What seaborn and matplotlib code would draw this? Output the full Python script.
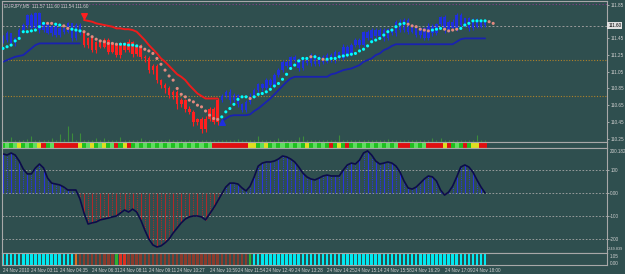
import numpy as np
import pandas as pd
import seaborn as sns
import matplotlib.pyplot as plt
import matplotlib.transforms as mtransforms

# ---- data ----
closes = [111.43, 111.51, 111.39, 111.45, 111.55, 111.61, 111.73, 111.57, 111.75, 111.55,
          111.62, 111.51, 111.60, 111.49, 111.57, 111.53, 111.63, 111.45, 111.61, 111.51,
          111.37, 111.45, 111.31, 111.41, 111.35, 111.43, 111.29, 111.38, 111.25, 111.39,
          111.31, 111.41, 111.26, 111.36, 111.23, 111.21, 111.07, 111.12, 110.95, 110.89,
          110.85, 110.77, 110.81, 110.66, 110.71, 110.61, 110.57, 110.45, 110.49, 110.37,
          110.49, 110.61, 110.45, 110.71, 110.76, 110.81, 110.71, 110.77, 110.66, 110.59,
          110.69, 110.76, 110.83, 110.90, 110.85, 110.95, 110.89, 111.01, 111.07, 111.17,
          111.12, 111.23, 111.19, 111.09, 111.21, 111.15, 111.25, 111.14, 111.23, 111.17,
          111.25, 111.19, 111.29, 111.21, 111.35, 111.26, 111.37, 111.43, 111.37, 111.53,
          111.45, 111.55, 111.48, 111.55, 111.45, 111.56, 111.51, 111.65, 111.55, 111.67,
          111.53, 111.59, 111.49, 111.57, 111.45, 111.60, 111.51, 111.62, 111.71, 111.55,
          111.65, 111.57, 111.73, 111.61, 111.69, 111.57, 111.67, 111.59, 111.65, 111.61]
first_open = 111.47
# wick lengths in pips (0.01)
wick_up = [2, 3, 1, 2, 3, 2, 1, 3, 2, 2,
           3, 2, 1, 2, 3, 2, 2, 1, 3, 2,
           3, 2, 2, 1, 2, 3, 2, 2, 1, 2,
           2, 3, 1, 2, 2, 2, 3, 2, 2, 1,
           2, 3, 2, 2, 3, 2, 3, 2, 1, 2,
           3, 2, 2, 3, 2, 2, 3, 2, 1, 2,
           2, 3, 2, 2, 1, 3, 2, 2, 3, 2,
           2, 1, 2, 3, 2, 2, 3, 1, 2, 2,
           3, 2, 2, 1, 3, 2, 2, 3, 2, 1,
           2, 3, 2, 2, 3, 1, 2, 2, 3, 2,
           2, 3, 2, 1, 2, 3, 2, 2, 1, 2,
           2, 3, 2, 2, 1, 2, 2, 3, 1, 2]
wick_dn = [3, 2, 2, 3, 1, 2, 3, 2, 2, 3,
           2, 1, 3, 2, 2, 3, 2, 3, 2, 2,
           2, 3, 2, 3, 2, 2, 3, 2, 2, 3,
           2, 2, 3, 2, 3, 4, 3, 5, 4, 3,
           6, 3, 4, 5, 3, 4, 3, 5, 4, 5,
           4, 3, 3, 4, 2, 2, 3, 2, 3, 2,
           2, 3, 2, 2, 3, 2, 2, 3, 2, 2,
           3, 2, 2, 3, 2, 2, 3, 2, 2, 3,
           2, 2, 3, 2, 2, 3, 2, 2, 3, 2,
           2, 3, 2, 2, 3, 2, 2, 3, 2, 2,
           3, 2, 2, 3, 2, 2, 3, 2, 2, 3,
           2, 2, 3, 2, 2, 3, 2, 2, 2, 2]
volumes = [8, 10, 25, 8, 12, 10, 14, 30, 12, 10,
           8, 12, 20, 10, 40, 15, 80, 45, 12, 45,
           10, 8, 12, 20, 10, 20, 8, 10, 12, 25,
           10, 8, 12, 10, 20, 8, 10, 12, 8, 10,
           12, 15, 8, 10, 12, 8, 10, 12, 8, 10,
           12, 8, 10, 12, 8, 10, 12, 8, 14, 10,
           8, 12, 10, 30, 10, 8, 12, 10, 20, 8,
           10, 12, 10, 25, 30, 10, 8, 12, 10, 8,
           12, 10, 8, 35, 10, 12, 8, 10, 12, 8,
           10, 12, 8, 10, 12, 15, 8, 10, 12, 8,
           10, 12, 8, 10, 12, 8, 20, 10, 20, 8,
           10, 12, 8, 10, 12, 8, 10, 35, 12, 8]
nan = np.nan
support_line = ([111.17, 111.19, 111.21, 111.23, 111.24, 111.25, 111.29, 111.33, 111.37, 111.39]
                + [111.39] * 10 + [nan] * 34
                + [110.46, 110.49, 110.52, 110.53, 110.53, 110.53, 110.53, 110.54, 110.58, 110.61,
                   110.65, 110.69, 110.73, 110.78, 110.83, 110.88, 110.93, 110.97]
                + [110.99] * 9
                + [111.02, 111.03, 111.05, 111.07, 111.08, 111.09, 111.11, 111.13, 111.17, 111.19,
                   111.21, 111.25, 111.27, 111.31, 111.33, 111.36]
                + [111.38] * 15 + [111.41, 111.44] + [111.45] * 6)
resist_line = ([nan] * 20
               + [111.67, 111.66, 111.65, 111.63, 111.62, 111.61, 111.60, 111.59, 111.57, 111.57,
                  111.56, 111.56, 111.55, 111.53, 111.48, 111.43, 111.37, 111.32, 111.27, 111.21,
                  111.17, 111.12, 111.07, 111.02, 110.99, 110.95, 110.89, 110.84, 110.79, 110.76,
                  110.73, 110.73, 110.73, 110.73]
               + [nan] * 66)
dots = [111.33, 111.35, 111.37, 111.42, 111.45, 111.53, 111.53, 111.54, 111.55, 111.59,
        111.63, 111.63, 111.63, 111.62, 111.61, 111.60, 111.57, 111.56, 111.55, 111.54,
        111.53, 111.50, 111.47, 111.44, 111.42, 111.41, 111.39, 111.39, 111.38, 111.38,
        111.38, 111.37, 111.37, 111.36, 111.35, 111.32, 111.30, 111.27, 111.21, 111.14,
        111.07, 111.00, 110.95, 110.85, 110.78, 110.75, 110.71, 110.69, 110.65, 110.63,
        110.58, 110.53, 110.49, 110.48, 110.51, 110.57, 110.61, 110.66, 110.72, 110.75,
        110.75, 110.73, 110.75, 110.78, 110.79, 110.81, 110.84, 110.88, 110.91, 110.96,
        111.02, 111.09, 111.13, 111.18, 111.21, 111.21, 111.23, 111.23, 111.21, 111.20,
        111.20, 111.21, 111.21, 111.23, 111.24, 111.25, 111.26, 111.27, 111.30, 111.32,
        111.36, 111.41, 111.43, 111.45, 111.49, 111.53, 111.55, 111.59, 111.62, 111.63,
        111.62, 111.60, 111.59, 111.56, 111.55, 111.54, 111.55, 111.56, 111.57, 111.56,
        111.54, 111.55, 111.56, 111.57, 111.61, 111.63, 111.66, 111.66, 111.66, 111.66,
        111.65, 111.63]
dot_side = ("CCCCCCCCCC" "CPPCCPPCCC" "PPPPPPPPPC" "CCCCPPPPPP" "PPPPPPPPPP" "PPPPCCCCCC"
            "CPCCCCCCCC" "CCCCCCPCCP" "CCCCCCCCCC" "CCCCCCCCCC" "PPPPPPCCCP" "PPPCCCCCCC" "PP")
strip_codes = ("glglyglgly" "rglrrrrrry" "glyglyglrg" "yrglglglgl" "glglglglgl" "glrrrrrrrr"
               "ryyglyglgl" "glglgyglgl" "grgygrglgl" "glglglglrr" "rglglrrrry" "rglgrgyyrr")
trend_codes = "c" * 18 + "o" + "b" * 9 + "g" + "rr" + "b" * 30 + "g" + "c" * 58
cci = [170, 165, 174, 165, 139, 104, 83, 83, 109, 126,
       109, 65, 43, 39, 35, 26, 13, 13, 13, -26,
       -87, -135, -130, -126, -117, -113, -109, -104, -100, -87,
       -74, -83, -70, -83, -117, -161, -200, -226, -235, -230,
       -217, -200, -174, -152, -130, -113, -104, -100, -100, -104,
       -117, -91, -65, -35, -4, 26, 43, 43, 39, 22,
       9, 30, 70, 117, 130, 135, 135, 139, 148, 161,
       157, 148, 135, 113, 87, 70, 61, 57, 65, 74,
       78, 74, 74, 74, 100, 122, 130, 126, 143, 174,
       183, 165, 139, 126, 130, 135, 130, 117, 91, 52,
       22, 17, 26, 43, 61, 74, 70, 52, 13, -9,
       4, 30, 70, 113, 122, 113, 91, 57, 26, 0]
price_ticks = [111.85, 111.45, 111.25, 111.05, 110.85, 110.65, 110.45, 110.25]
bid = 111.60
pivot_levels = [111.19, 110.76]
top_level = 111.86
sell_arrow = (20, 111.72)
buy_arrow = (54, 110.45)
cci_ticks = [100, 0, -100, -200]
cci_tick_labels = ["100", "0.00", "-100", "-200"]
cci_max_label, cci_min_label = "200.182", "-249.839"
time_ticks = [0, 7, 14, 22, 29, 36, 43, 51, 58, 65, 72, 80, 87, 94, 101, 109, 116]
time_labels = ["24 Nov 2010", "24 Nov 03:11", "24 Nov 04:35", "24 Nov 06:31", "24 Nov 08:11",
               "24 Nov 09:11", "24 Nov 10:27", "24 Nov 10:59", "24 Nov 11:54", "24 Nov 12:49",
               "24 Nov 13:28", "24 Nov 14:25", "24 Nov 15:14", "24 Nov 15:58", "24 Nov 16:29",
               "24 Nov 17:09", "24 Nov 18:00"]

# ---- style ----
bg = "#2f4f4f"
fg = "#d0d0d0"
grid_c = "#a8a8a8"
fs = 3.3
sns.set_theme(style="dark", rc={"axes.facecolor": bg, "figure.facecolor": bg,
                                "axes.edgecolor": grid_c})
plt.rcParams["font.family"] = ["Liberation Sans", "DejaVu Sans"]

n = len(closes)
idx = np.arange(n)
opens = [first_open] + closes[:-1]
highs = [max(o, c) + u / 100 for o, c, u in zip(opens, closes, wick_up)]
lows = [min(o, c) - d / 100 for o, c, d in zip(opens, closes, wick_dn)]
down = ~np.isnan(np.array(resist_line))
bar_col = np.where(down, "#ff1f1f", "#1f2fe0")

W, H = 625, 274
L, WD = 2 / W, 605 / W
xlim = (-0.25, 149.1)

fig = plt.figure(figsize=(6.25, 2.74), dpi=100)
ax = fig.add_axes([L, 1 - 142 / H, WD, 141 / H])
ax_s = fig.add_axes([L, 1 - 148 / H, WD, 6 / H])
ax_c = fig.add_axes([L, 1 - 253 / H, WD, 105 / H])
ax_b = fig.add_axes([L, 1 - 265 / H, WD, 12 / H])

# main price panel
axv = ax.twinx()
axv.vlines(idx, 0, volumes, color="#3c8c3c", lw=0.8)
axv.set_ylim(0, 700)
axv.set_yticks([])
axv.grid(False)
for sp in axv.spines.values():
    sp.set_visible(False)

ax.axhline(top_level, color="#8a3a8a", lw=0.8, ls=(0, (1, 2)))
for lv in pivot_levels:
    ax.axhline(lv, color="#b0822a", lw=0.8, ls=(0, (1, 1.5)))
ax.axhline(bid, color="#9a9a9a", lw=0.7, ls=(0, (2, 2)))

ax.vlines(idx, lows, highs, color=bar_col, lw=0.8)
body_lo = np.minimum(opens, closes)
body_h = np.maximum(np.abs(np.array(closes) - np.array(opens)), 0.006)
ax.bar(idx, body_h, bottom=body_lo, width=0.62, color=bar_col, linewidth=0)

ax.plot(idx, support_line, color="#1a22b0", lw=1.3)
ax.plot(idx, resist_line, color="#ee1c1c", lw=1.4)
dot_df = pd.DataFrame({"x": np.arange(len(dots)), "y": dots, "side": list(dot_side)})
sns.scatterplot(data=dot_df, x="x", y="y", hue="side", palette={"C": "#00ffff", "P": "#e48a80"},
                s=5, linewidth=0, legend=False, ax=ax, zorder=5)
ax.scatter([sell_arrow[0]], [sell_arrow[1]], marker="v", s=16, color="#ff2020", zorder=6)
ax.scatter([buy_arrow[0]], [buy_arrow[1]], marker="^", s=16, color="#1f2fe0", zorder=6)

ax.set_xlim(*xlim)
ax.set_ylim(110.209, 111.898)
ax.yaxis.tick_right()
ax.set_yticks(price_ticks)
ax.set_yticklabels([f"{p:.2f}" for p in price_ticks])
ax.text(1.002, bid, f"{bid:.2f}", transform=mtransforms.blended_transform_factory(ax.transAxes, ax.transData),
        fontsize=fs, color="black", va="center", ha="left",
        bbox=dict(boxstyle="square,pad=0.2", fc="#e0e0e0", ec="none"))
ax.text(0.004, 0.985, "EURJPY,M5  111.57 111.60 111.54 111.60", transform=ax.transAxes,
        fontsize=fs, color=fg, va="top")

# signal strip
strip_colors = {"g": "#1fbf1f", "l": "#5ede5e", "r": "#e01010", "y": "#dede20"}
ax_s.bar(idx, 1, width=1.0, color=[strip_colors[c] for c in strip_codes], linewidth=0)
ax_s.set_xlim(*xlim)
ax_s.set_ylim(0, 1)
ax_s.set_yticks([])

# cci panel
for lv in cci_ticks:
    ax_c.axhline(lv, color=grid_c, lw=0.6, ls=(0, (2, 2)))
cci_arr = np.array(cci)
hist_col = np.where(cci_arr >= 0, "#2a36e0", "#b02a2a")
ax_c.vlines(idx[::2], 0, cci_arr[::2], color=hist_col[::2], lw=0.8)
ax_c.vlines(idx[1::2], 0, cci_arr[1::2], color=hist_col[1::2], lw=0.8, ls=(0, (1, 1)))
sns.lineplot(x=idx, y=cci_arr, color="#0c0c4a", lw=1.2, ax=ax_c)
ax_c.set_xlim(*xlim)
ax_c.set_ylim(-261, 195.7)
ax_c.yaxis.tick_right()
ax_c.set_yticks(cci_ticks)
ax_c.set_yticklabels(cci_tick_labels)
ax_c.text(1.004, 0.99, cci_max_label, transform=ax_c.transAxes, fontsize=fs, color=fg, va="top")
ax_c.text(1.002, 0.02, cci_min_label, transform=ax_c.transAxes, fontsize=2.8, color=fg, va="bottom")

# trend strip
trend_colors = {"c": "#00e8f0", "b": "#8b3a2b", "o": "#e07020", "g": "#30b030", "r": "#e03020"}
ax_b.bar(idx, 1, width=0.62, color=[trend_colors[c] for c in trend_codes], linewidth=0)
ax_b.set_xlim(*xlim)
ax_b.set_ylim(0, 1.05)
ax_b.yaxis.tick_right()
ax_b.set_yticks([0.8, 0.2])
ax_b.set_yticklabels(["1.05", "0.00"])
ax_b.set_xticks(time_ticks)
ax_b.set_xticklabels(time_labels)
for lab in ax_b.get_xticklabels():
    lab.set_ha("left")

for a in (ax, ax_s, ax_c, ax_b):
    a.grid(False)
    a.tick_params(axis="both", labelsize=fs, colors=fg, length=1.5, width=0.5, pad=0.8)
    for sp in a.spines.values():
        sp.set_color(grid_c)
        sp.set_linewidth(0.8)
    if a is not ax_b:
        a.set_xticks([])
    a.set_xlabel("")
    a.set_ylabel("")
ax_b.tick_params(axis="y", length=0, pad=2)

fig.savefig("out.png", dpi=100, facecolor=bg)
